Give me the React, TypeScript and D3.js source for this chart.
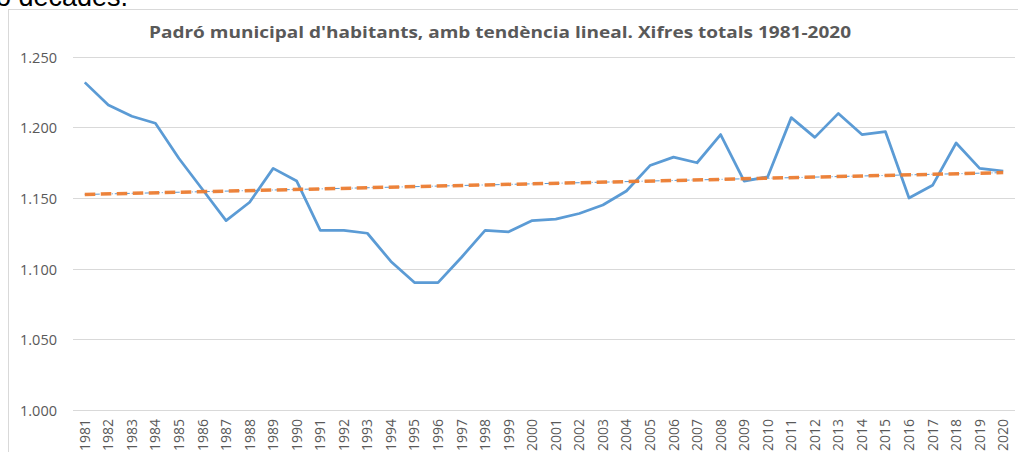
import React from "react";
import * as d3 from "d3";

const years: string[] = d3.range(1981, 2021).map(String);
const population: number[] = [
  1232, 1216, 1208, 1203, 1178, 1156, 1134, 1147, 1171, 1162,
  1127, 1127, 1125, 1105, 1090, 1090, 1108, 1127, 1126, 1134,
  1135, 1139, 1145, 1155, 1173, 1179, 1175, 1195, 1162, 1165,
  1207, 1193, 1210, 1195, 1197, 1150, 1159, 1189, 1171, 1169,
];
const trendEnds: number[] = [1152.5, 1168];
const yTicks: number[] = [1000, 1050, 1100, 1150, 1200, 1250];
const title = "Padró municipal d'habitants, amb tendència lineal. Xifres totals 1981-2020";

const W = 1018;
const H = 452;

export default function App() {
  const x = d3.scaleBand<string>().domain(years).range([73, 1015]);
  const y = d3.scaleLinear().domain([1000, 1250]).range([409.5, 57]);
  const cx = (yr: string) => (x(yr) as number) + x.bandwidth() / 2;
  const fmt = d3.formatLocale({ decimal: ",", thousands: ".", grouping: [3], currency: ["", "€"] }).format(",d");

  const line = d3
    .line<number>()
    .x((_, i) => cx(years[i]))
    .y((d) => y(d));
  const trendPts: [number, number][] = [
    [cx(years[0]), y(trendEnds[0])],
    [cx(years[years.length - 1]), y(trendEnds[1])],
  ];
  const trendPath = d3.line()(trendPts) as string;
  const gray = "#595959";

  return (
    <svg width={W} height={H} style={{ position: "absolute", left: 0, top: 0, background: "#fff" }}>
      <text x={-4} y={6} fontFamily="Liberation Sans, Arial, sans-serif" fontSize={27} fill="#000">
        o decades.
      </text>
      <rect x={8.5} y={9.5} width={1030} height={470} fill="#fff" stroke="#d9d9d9" strokeWidth={1} />
      <text
        x={500}
        y={38}
        textAnchor="middle"
        fontFamily="Open Sans, sans-serif"
        fontWeight="bold"
        fontSize={16.5}
        fill={gray}
        textLength={702}
        lengthAdjust="spacingAndGlyphs"
      >
        {title}
      </text>
      {yTicks.map((t) => {
        const yy = Math.round(y(t)) + 0.5;
        return (
          <g key={t}>
            <line x1={73} x2={1015} y1={yy} y2={yy} stroke="#d9d9d9" strokeWidth={1} />
            <text
              x={57}
              y={yy + 5}
              textAnchor="end"
              fontFamily="Open Sans, sans-serif"
              fontSize={14.5}
              fill={gray}
            >
              {fmt(t)}
            </text>
          </g>
        );
      })}
      {years.map((yr) => (
        <text
          key={yr}
          transform={`translate(${cx(yr) + 5},419) rotate(-90)`}
          textAnchor="end"
          fontFamily="Open Sans, sans-serif"
          fontSize={14}
          fill={gray}
        >
          {yr}
        </text>
      ))}
      <path d={line(population) as string} fill="none" stroke="#5B9BD5" strokeWidth={2.75} strokeLinejoin="round" />
      <path d={trendPath} fill="none" stroke="#5B9BD5" strokeWidth={1} strokeDasharray="5,2,1,2" />
      <path d={trendPath} fill="none" stroke="#ED7D31" strokeWidth={3.5} strokeDasharray="10.5,5.5" opacity={0.95} />
    </svg>
  );
}
